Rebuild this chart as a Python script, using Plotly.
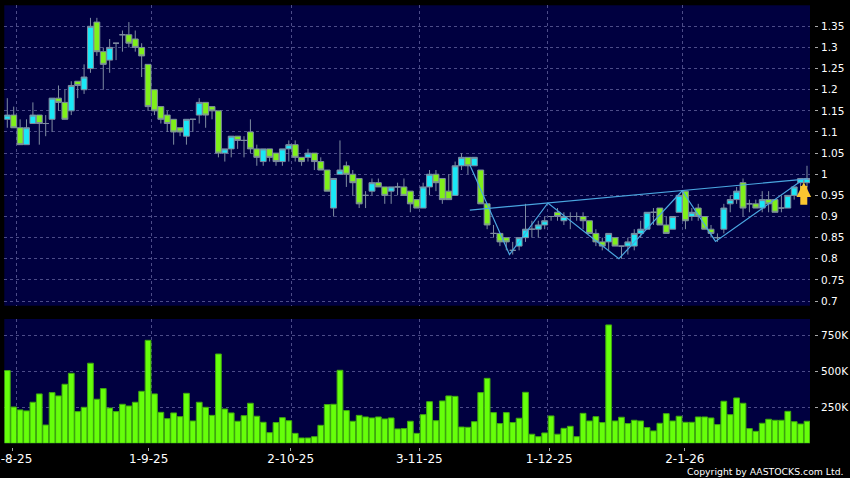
import plotly.graph_objects as go

index = list(range(126))

# open, high, low, close
opens = [1.13,1.14,1.11,1.07,1.12,1.14,1.12,1.13,1.18,1.17,1.15,1.22,1.20,1.25,1.36,1.29,1.27,1.31,1.33,1.33,1.32,1.30,1.26,1.20,1.16,1.14,1.13,1.11,1.09,1.13,
         1.14,1.17,1.16,1.15,1.05,1.06,1.09,1.08,1.10,1.06,1.03,1.06,1.05,1.03,1.06,1.07,1.04,1.04,1.05,1.03,1.01,0.92,1.00,1.02,1.00,0.99,0.95,0.96,0.98,0.97,
         0.96,0.97,0.97,0.96,0.94,0.92,0.97,1.00,0.99,0.96,0.95,1.02,1.04,1.02,1.01,0.93,0.86,0.86,0.85,0.82,0.83,0.85,0.87,0.87,0.88,0.90,0.91,0.89,0.90,0.90,
         0.90,0.89,0.86,0.84,0.84,0.85,0.83,0.83,0.83,0.86,0.87,0.91,0.92,0.88,0.87,0.91,0.96,0.90,0.92,0.90,0.87,0.85,0.87,0.93,0.94,0.98,0.93,0.93,0.92,0.94,
         0.94,0.92,0.92,0.95,0.98,0.98]
highs = [1.18,1.16,1.13,1.13,1.17,1.14,1.14,1.18,1.21,1.20,1.22,1.22,1.26,1.37,1.37,1.30,1.32,1.31,1.34,1.36,1.34,1.31,1.26,1.20,1.16,1.15,1.13,1.11,1.13,1.13,
         1.18,1.17,1.16,1.15,1.06,1.09,1.09,1.09,1.13,1.07,1.06,1.06,1.05,1.06,1.08,1.08,1.04,1.06,1.05,1.04,1.01,0.99,1.08,1.03,1.01,0.99,0.96,0.99,0.99,0.97,
         0.97,0.98,0.99,0.96,0.94,0.98,1.01,1.01,0.99,1.00,1.03,1.05,1.04,1.04,1.01,0.93,0.88,0.86,0.85,0.84,0.85,0.93,0.89,0.89,0.90,0.90,0.92,0.91,0.91,0.91,
         0.91,0.89,0.87,0.85,0.86,0.85,0.83,0.85,0.87,0.89,0.91,0.92,0.92,0.90,0.90,0.95,0.96,0.92,0.93,0.90,0.88,0.86,0.93,0.95,0.97,0.99,0.94,0.94,0.96,0.96,
         0.94,0.95,0.95,0.97,0.99,1.02]
lows = [1.11,1.11,1.07,1.07,1.12,1.07,1.09,1.10,1.15,1.13,1.14,1.18,1.19,1.24,1.28,1.20,1.24,1.27,1.29,1.30,1.29,1.23,1.15,1.14,1.12,1.10,1.07,1.09,1.07,1.10,
        1.12,1.11,1.13,1.04,1.03,1.04,1.06,1.04,1.05,1.02,1.02,1.03,1.02,1.02,1.03,1.03,1.02,1.03,1.01,1.01,0.96,0.90,1.00,0.97,0.95,0.92,0.92,0.95,0.97,0.93,
        0.93,0.95,0.95,0.91,0.92,0.92,0.95,0.96,0.93,0.94,0.95,1.01,1.00,1.02,0.93,0.87,0.85,0.83,0.82,0.81,0.82,0.84,0.85,0.85,0.87,0.89,0.89,0.88,0.87,0.89,
        0.87,0.86,0.83,0.82,0.82,0.83,0.80,0.81,0.82,0.85,0.87,0.88,0.88,0.86,0.87,0.91,0.87,0.89,0.89,0.87,0.85,0.84,0.86,0.91,0.93,0.90,0.91,0.92,0.91,0.91,
        0.91,0.91,0.92,0.94,0.95,0.97]
closes = [1.14,1.11,1.07,1.11,1.14,1.12,1.12,1.18,1.17,1.13,1.21,1.21,1.23,1.35,1.29,1.26,1.30,1.31,1.33,1.31,1.30,1.28,1.16,1.15,1.13,1.12,1.10,1.10,1.13,1.13,
          1.17,1.14,1.15,1.05,1.06,1.09,1.08,1.08,1.06,1.04,1.06,1.04,1.03,1.06,1.07,1.04,1.03,1.05,1.03,1.01,0.96,0.99,1.01,1.00,0.98,0.93,0.95,0.98,0.97,0.95,
          0.97,0.97,0.95,0.93,0.92,0.97,1.00,0.98,0.94,0.94,1.02,1.04,1.02,1.04,0.93,0.88,0.86,0.84,0.84,0.82,0.85,0.87,0.87,0.88,0.89,0.90,0.90,0.90,0.90,0.90,
          0.89,0.86,0.84,0.83,0.86,0.83,0.83,0.84,0.86,0.87,0.91,0.91,0.88,0.86,0.90,0.95,0.89,0.91,0.90,0.87,0.86,0.85,0.92,0.94,0.96,0.92,0.93,0.92,0.94,0.93,
          0.91,0.92,0.95,0.97,0.99,0.99]

volumes = [505,252,232,225,285,343,127,352,329,410,486,220,250,556,306,380,245,220,271,259,285,361,715,343,215,171,211,185,347,155,
           285,250,194,620,238,211,153,192,278,188,146,74,144,178,157,69,37,37,46,125,269,271,507,227,153,194,183,176,183,169,
           176,100,102,153,69,199,289,157,294,329,326,113,111,150,352,451,213,137,213,144,174,354,63,46,72,190,63,104,118,46,
           208,155,185,144,822,155,181,137,160,155,109,86,139,206,155,188,146,146,183,183,176,130,292,199,315,278,102,83,139,167,
           160,160,222,150,134,153]
volumes_k = [v * 1000 for v in volumes]

zigzag_x = [72.3, 78.5, 84.5, 95.6, 105.5, 110.7, 123.9]
zigzag_y = [1.022, 0.81, 0.932, 0.80, 0.961, 0.841, 0.982]
neck_x = [72.3, 125.2]
neck_y = [0.915, 0.989]

price_ticks = [0.7, 0.75, 0.8, 0.85, 0.9, 0.95, 1, 1.05, 1.1, 1.15, 1.2, 1.25, 1.3, 1.35]
price_labels = ["0.7", "0.75", "0.8", "0.85", "0.9", "0.95", "1", "1.05", "1.1", "1.15", "1.2", "1.25", "1.3", "1.35"]
vol_ticks = [250000, 500000, 750000]
vol_labels = ["250K", "500K", "750K"]
grid_x = [1.45, 22.5, 44.4, 64.4, 84.4, 105.5]
date_pos = [0.85, 22.1, 44.3, 64.4, 84.7, 105.9]
date_labels = ["1-8-25", "1-9-25", "2-10-25", "3-11-25", "1-12-25", "2-1-26"]

BG = "#000000"
PANEL = "#000040"
GRID = "#4c4c88"
DASH = "3px,3px"
TICK = "#a8a8a8"
TXT = "#ffffff"
FONT = "DejaVu Sans"
W, H = 850, 478
XR = [-0.47, 125.47]

fig = go.Figure()
fig.add_trace(go.Candlestick(
    x=index, open=opens, high=highs, low=lows, close=closes,
    xaxis="x", yaxis="y",
    increasing=dict(fillcolor="#19e8f7", line=dict(color="#7e8ca0", width=1)),
    decreasing=dict(fillcolor="#7ff01a", line=dict(color="#7e8ca0", width=1)),
    whiskerwidth=0, showlegend=False))
fig.add_trace(go.Scatter(x=zigzag_x, y=zigzag_y, mode="lines", xaxis="x", yaxis="y",
                         line=dict(color="#4aa6e0", width=1.2), showlegend=False))
fig.add_trace(go.Scatter(x=neck_x, y=neck_y, mode="lines", xaxis="x", yaxis="y",
                         line=dict(color="#4aa6e0", width=1.2), showlegend=False))
fig.add_trace(go.Bar(x=index, y=volumes_k, xaxis="x2", yaxis="y2", width=0.9,
                     marker=dict(color="#66ff0a", line=dict(color="#3fa80f", width=1)),
                     showlegend=False))
# invisible carrier so the date axis is drawn
fig.add_trace(go.Scatter(x=date_pos, y=[0]*6, mode="markers", marker=dict(opacity=0),
                         xaxis="x3", yaxis="y2", showlegend=False, hoverinfo="skip"))

fig.update_layout(
    width=W, height=H, autosize=False,
    margin=dict(l=0, r=0, t=0, b=0, autoexpand=False),
    paper_bgcolor=BG, plot_bgcolor=PANEL,
    font=dict(family=FONT, color=TXT, size=10.5),
    boxgap=0.08, boxgroupgap=0, bargap=0.1,
    hovermode=False,
    xaxis=dict(domain=[4.3/W, 810/W], range=XR, anchor="y", rangeslider=dict(visible=False),
               tickmode="array", tickvals=grid_x, showticklabels=False, ticks="",
               showgrid=True, gridcolor=GRID, griddash=DASH, gridwidth=1, zeroline=False, showline=False),
    yaxis=dict(domain=[1-305.7/H, 1-5.3/H], range=[0.689, 1.3997], anchor="free",
               position=814/W, side="right",
               tickmode="array", tickvals=price_ticks, ticktext=price_labels,
               ticks="outside", ticklen=3, tickcolor=TICK, tickwidth=1,
               showgrid=True, gridcolor=GRID, griddash=DASH, gridwidth=1, zeroline=False, showline=False,
               ticklabelstandoff=1),
    xaxis2=dict(domain=[4.3/W, 810/W], range=XR, anchor="y2",
                tickmode="array", tickvals=grid_x, showticklabels=False, ticks="",
                showgrid=True, gridcolor=GRID, griddash=DASH, gridwidth=1, zeroline=False, showline=False),
    yaxis2=dict(domain=[1-443.3/H, 1-319/H], range=[0, 863000], anchor="free",
                position=814/W, side="right",
                tickmode="array", tickvals=vol_ticks, ticktext=vol_labels,
                ticks="outside", ticklen=3, tickcolor=TICK, tickwidth=1,
                showgrid=True, gridcolor=GRID, griddash=DASH, gridwidth=1, zeroline=False, showline=False,
                ticklabelstandoff=1),
    xaxis3=dict(domain=[4.3/W, 810/W], range=XR, overlaying="x2", anchor="free",
                position=1-447/H, side="bottom",
                tickmode="array", tickvals=date_pos, ticktext=date_labels,
                tickfont=dict(size=12, family=FONT, color=TXT),
                ticks="outside", ticklen=3, tickcolor=TICK, tickwidth=1,
                showgrid=False, zeroline=False, showline=False, ticklabeloverflow="allow",
                ticklabelstandoff=-2),
    annotations=[
        dict(x=124.5, y=0.981, xref="x", yref="y", ax=0, ay=24, showarrow=True,
             arrowhead=2, arrowsize=0.42, arrowwidth=7, arrowcolor="#fbc531", standoff=0, text=""),
        dict(x=846/W, y=1-471/H, xref="paper", yref="paper", xanchor="right", yanchor="middle",
             showarrow=False, text="Copyright by AASTOCKS.com Ltd.", font=dict(size=9.3, color=TXT, family=FONT)),
    ],
)

fig.write_html("out.html", config=dict(displayModeBar=False),
               post_script="document.body.style.margin='0';document.body.style.overflow='hidden';")
